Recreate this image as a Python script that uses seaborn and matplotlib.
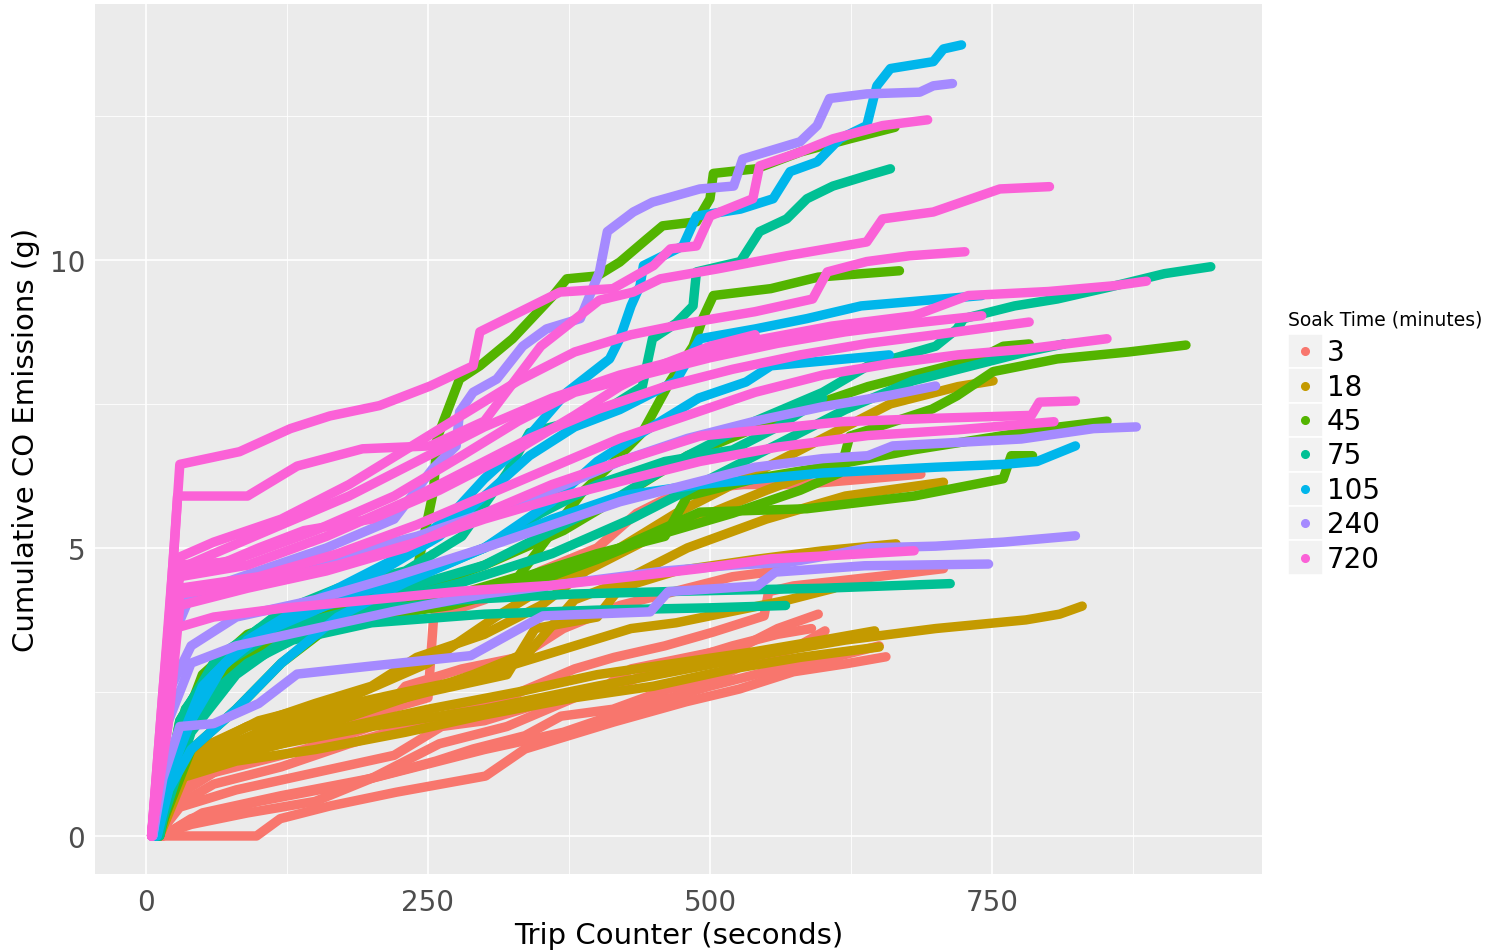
import matplotlib
matplotlib.use("Agg")
import matplotlib.pyplot as plt
from matplotlib.patches import Rectangle
from matplotlib.lines import Line2D
from matplotlib.ticker import MultipleLocator
import seaborn as sns
import pandas as pd

# Soak-time groups (minutes) and their colours
SOAK_TIMES = [3, 18, 45, 75, 105, 240, 720]
COLORS = ["#F8766D", "#C49A00", "#53B400", "#00C094", "#00B6EB", "#A58AFF", "#FB61D7"]

# Each trip: list of (trip counter in s, cumulative CO in g) points
TRIPS_3 = [
    [(12,0),(98,0),(119,0.3),(163,0.52),(222,0.76),(301,1.04),(336,1.51),(415,1.98),(479,2.33),(526,2.55),(574,2.85),(621,2.99),(656,3.11)],
    [(15,0),(40,0.3),(100,0.6),(180,0.9),(257,1.3),(290,1.51),(336,1.74),(368,2.08),(414,2.2),(463,2.55),(510,2.78),(542,3.07),(574,3.25),(602,3.56)],
    [(10,0),(30,0.5),(80,0.8),(150,1.1),(220,1.4),(262,1.9),(300,2.0),(350,2.3),(400,2.5),(430,2.9),(480,3.1),(530,3.3),(560,3.6),(596,3.85)],
    [(10,0),(25,0.5),(60,0.9),(120,1.2),(180,1.6),(250,2.0),(320,2.4),(380,2.9),(415,3.1),(460,3.3),(503,3.54),(548,3.82),(552,4.24),(574,4.34),(652,4.51),(707,4.64)],
    [(10,0),(30,0.8),(100,1.5),(180,2.0),(250,2.4),(255,3.8),(300,4.1),(350,4.6),(400,5.0),(435,5.6),(476,6.0),(530,6.1),(580,6.1),(640,6.2),(687,6.28)],
    [(15,0),(50,0.4),(120,0.7),(200,1.0),(260,1.6),(320,1.9),(380,2.4),(430,2.7),(470,3.0),(520,3.3),(560,3.5),(590,3.6)],
    [(8,0),(20,0.6),(60,1.1),(140,1.5),(200,1.9),(230,2.6),(280,2.9),(330,3.1),(370,3.6),(420,4.0),(480,4.3),(520,4.5),(560,4.6)],
    [(10,0),(40,0.2),(90,0.4),(150,0.6),(200,1.0),(240,1.2),(300,1.5),(370,1.8),(430,2.2),(500,2.6),(560,2.9),(610,3.1),(650,3.3)],
]
TRIPS_18 = [
    [(12,0),(25,1.0),(60,1.3),(120,1.6),(200,1.9),(300,2.2),(400,2.6),(480,2.9),(560,3.2),(620,3.4),(700,3.6),(780,3.75),(810,3.85),(830,3.99)],
    [(10,0),(30,1.0),(80,1.3),(150,1.5),(230,1.8),(300,2.1),(380,2.4),(450,2.6),(520,2.9),(580,3.1),(650,3.28)],
    [(12,0),(35,1.1),(100,1.5),(180,1.9),(250,2.2),(330,2.5),(400,2.8),(470,3.0),(540,3.2),(600,3.4),(646,3.56)],
    [(10,0),(30,1.2),(100,1.8),(170,2.1),(250,2.5),(320,2.8),(345,3.6),(400,3.8),(420,4.3),(470,4.6),(540,4.8),(600,4.95),(665,5.07)],
    [(10,0),(30,1.3),(90,1.9),(150,2.3),(200,2.6),(240,3.1),(300,3.5),(350,4.0),(390,4.6),(450,5.2),(500,5.6),(550,6.0),(605,6.4)],
    [(12,0),(30,1.1),(90,1.6),(170,2.0),(230,2.4),(290,2.8),(340,3.2),(380,4.1),(420,4.4),(480,5.0),(550,5.5),(620,5.9),(707,6.14)],
    [(10,0),(30,1.3),(100,2.0),(180,2.4),(250,3.0),(310,3.8),(360,4.4),(420,5.0),(470,5.6),(540,6.3),(600,6.9),(660,7.5),(720,7.8),(751,7.9)],
    [(12,0),(35,1.4),(90,1.9),(160,2.2),(230,2.5),(280,2.7),(330,3.0),(380,3.3),(430,3.6),(470,3.7),(520,3.9),(570,4.1),(610,4.3)],
]
TRIPS_45 = [
    [(10,0),(25,1.5),(50,2.8),(90,3.5),(150,3.9),(200,4.2),(240,4.6),(255,6.0),(258,6.9),(278,7.93),(296,8.16),(325,8.63),(361,9.38),(373,9.67),(400,9.72),(420,9.96),(444,10.36),(458,10.59),(488,10.66),(500,11.06),(503,11.5),(541,11.58),(580,11.87),(624,12.1),(664,12.3)],
    [(10,0),(30,2.0),(60,3.0),(100,3.5),(180,3.9),(260,4.1),(330,4.5),(387,5.97),(410,6.4),(440,7.0),(465,7.9),(485,8.5),(494,9.0),(503,9.38),(554,9.5),(596,9.7),(668,9.81)],
    [(12,0),(30,1.8),(70,2.8),(120,3.4),(200,3.8),(270,4.0),(330,4.3),(400,4.8),(450,5.2),(520,5.6),(580,6.0),(615,6.3),(624,6.94),(697,7.41),(719,7.64),(751,8.06),(808,8.28),(871,8.4),(922,8.52)],
    [(10,0),(35,2.2),(80,3.3),(150,3.8),(230,4.2),(300,4.7),(370,5.3),(430,6.0),(480,6.6),(530,7.0),(580,7.4),(640,7.8),(700,8.1),(740,8.3),(760,8.5),(783,8.54)],
    [(12,0),(40,2.0),(90,3.2),(160,3.7),(240,4.0),(320,4.4),(400,4.9),(460,5.2),(480,5.9),(540,6.2),(600,6.4),(680,6.7),(760,6.95),(810,7.1),(852,7.2)],
    [(10,0),(40,1.5),(80,2.2),(120,3.0),(160,3.6),(230,3.9),(300,4.2),(380,4.7),(420,5.0),(491,5.62),(586,5.68),(681,5.9),(760,6.2),(767,6.6),(786,6.6)],
]
TRIPS_75 = [
    [(10,0),(25,1.5),(50,2.6),(80,3.3),(120,3.9),(170,4.3),(230,4.6),(280,5.2),(320,6.3),(340,7.0),(400,7.3),(440,7.8),(449,8.63),(470,8.9),(485,9.2),(488,9.79),(527,9.97),(544,10.49),(568,10.71),(586,11.06),(609,11.28),(639,11.46),(660,11.58)],
    [(12,0),(30,2.0),(60,3.0),(100,3.6),(160,4.0),(230,4.3),(300,4.7),(360,5.3),(420,5.9),(480,6.6),(540,7.2),(600,7.7),(640,8.16),(700,8.5),(719,8.8),(725,8.98),(770,9.2),(808,9.32),(855,9.53),(903,9.76),(944,9.88)],
    [(10,0),(30,1.8),(70,3.0),(120,3.6),(200,4.0),(280,4.4),(360,4.9),(430,5.5),(500,6.2),(560,6.8),(620,7.4),(680,7.9),(740,8.2),(780,8.4),(814,8.54)],
    [(10,0),(30,1.5),(60,2.5),(90,3.0),(130,3.4),(200,3.7),(300,3.85),(400,3.92),(500,3.96),(567,4.0)],
    [(10,0),(40,1.8),(80,2.8),(130,3.5),(200,3.9),(280,4.1),(380,4.2),(480,4.25),(600,4.3),(713,4.38)],
    [(12,0),(35,2.2),(70,3.2),(110,3.7),(170,4.1),(240,4.5),(300,5.0),(350,5.6),(400,6.1),(460,6.5),(520,6.7),(560,7.1),(600,7.6)],
]
TRIPS_105 = [
    [(5,0),(20,1.0),(40,2.0),(70,3.0),(110,3.6),(160,4.2),(220,4.8),(270,5.56),(300,6.2),(332,6.77),(373,7.7),(411,8.28),(420,8.63),(430,9.2),(438,9.55),(441,9.9),(476,10.24),(488,10.76),(527,10.88),(556,11.06),(571,11.53),(595,11.7),(615,12.1),(639,12.33),(645,12.8),(648,13.02),(660,13.32),(698,13.44),(707,13.66),(723,13.73)],
    [(8,0),(25,1.4),(50,2.6),(90,3.4),(140,4.0),(200,4.5),(260,5.2),(300,5.9),(340,6.6),(380,7.1),(420,7.4),(470,7.9),(491,8.63),(540,8.8),(586,8.98),(634,9.2),(741,9.38)],
    [(10,0),(30,1.6),(60,2.8),(100,3.5),(160,4.0),(230,4.5),(300,5.0),(360,5.8),(400,6.5),(440,7.0),(490,7.6),(532,7.88),(554,8.16),(659,8.35)],
    [(8,0),(20,0.8),(40,1.5),(80,2.2),(120,3.0),(170,3.8),(230,4.4),(300,5.0),(360,5.5),(420,5.9),(491,6.1),(600,6.3),(700,6.4),(760,6.45),(790,6.5),(824,6.77)],
]
TRIPS_240 = [
    [(5,0),(15,1.5),(25,3.5),(40,4.2),(100,4.6),(160,5.0),(220,5.5),(254,6.37),(275,6.77),(278,7.36),(290,7.7),(311,7.93),(334,8.5),(355,8.8),(385,8.98),(402,9.79),(409,10.49),(432,10.83),(449,11.0),(491,11.23),(521,11.28),(529,11.75),(580,12.05),(595,12.33),(606,12.8),(639,12.88),(686,12.91),(698,13.02),(715,13.06)],
    [(5,0),(15,2.0),(30,4.0),(60,4.3),(120,4.6),(180,4.9),(240,5.2),(300,5.6),(360,6.0),(420,6.5),(480,6.9),(540,7.2),(600,7.45),(660,7.65),(700,7.81)],
    [(6,0),(20,2.5),(40,3.3),(80,3.8),(150,4.1),(220,4.5),(300,5.0),(360,5.4),(420,5.8),(480,6.1),(540,6.4),(600,6.55),(640,6.6),(662,6.77),(776,6.89),(840,7.07),(878,7.1)],
    [(6,0),(20,2.0),(40,3.0),(80,3.3),(150,3.6),(220,3.9),(300,4.2),(380,4.4),(460,4.6),(520,4.7),(570,4.75),(600,4.85),(640,5.0),(700,5.03),(760,5.1),(824,5.21)],
    [(6,0),(15,1.0),(30,1.9),(60,1.95),(100,2.3),(134,2.81),(200,2.95),(288,3.13),(336,3.65),(352,3.82),(447,3.89),(463,4.24),(542,4.34),(558,4.58),(637,4.69),(747,4.72)],
]
TRIPS_720 = [
    [(5,0),(15,2.5),(25,5.0),(30,6.45),(83,6.67),(128,7.07),(163,7.29),(207,7.47),(252,7.81),(290,8.16),(296,8.75),(332,9.1),(367,9.44),(414,9.5),(450,9.9),(465,10.19),(488,10.24),(500,10.76),(538,11.06),(544,11.63),(580,11.87),(609,12.1),(653,12.33),(693,12.43)],
    [(5,0),(15,2.2),(28,5.9),(90,5.9),(134,6.42),(192,6.72),(252,6.77),(300,7.2),(350,8.5),(402,9.3),(432,9.44),(456,9.67),(506,9.84),(568,10.07),(639,10.31),(653,10.71),(698,10.83),(757,11.23),(801,11.27)],
    [(5,0),(15,1.8),(25,4.8),(60,5.1),(120,5.5),(180,6.1),(230,6.7),(280,7.3),(330,7.9),(380,8.4),(430,8.7),(480,8.9),(540,9.1),(591,9.32),(604,9.79),(639,9.97),(677,10.07),(726,10.14)],
    [(5,0),(15,1.5),(25,4.6),(60,4.9),(120,5.4),(180,5.9),(240,6.5),(300,7.1),(360,7.6),(420,8.0),(480,8.3),(540,8.6),(608,8.85),(681,9.03),(729,9.38),(800,9.45),(858,9.55),(887,9.63)],
    [(5,0),(20,3.0),(30,4.6),(80,4.8),(150,5.3),(220,5.9),(280,6.6),(330,7.2),(380,7.7),(440,8.0),(500,8.3),(560,8.55),(620,8.75),(680,8.9),(741,9.03)],
    [(5,0),(20,3.5),(30,4.5),(90,4.7),(160,5.2),(230,5.8),(290,6.4),(340,6.9),(400,7.4),(460,7.8),(520,8.1),(580,8.35),(640,8.55),(700,8.7),(783,8.92)],
    [(5,0),(20,2.8),(30,4.3),(100,4.5),(170,4.9),(240,5.4),(300,5.9),(360,6.4),(420,6.9),(480,7.3),(540,7.7),(600,8.0),(660,8.2),(720,8.35),(780,8.45),(820,8.55),(852,8.63)],
    [(5,0),(20,2.0),(30,4.0),(90,4.3),(160,4.6),(230,5.0),(300,5.6),(360,6.1),(420,6.5),(491,6.94),(617,7.19),(700,7.25),(785,7.3),(792,7.53),(824,7.55)],
    [(5,0),(15,1.5),(30,4.2),(100,4.4),(170,4.7),(240,5.1),(300,5.5),(370,5.9),(430,6.2),(491,6.5),(560,6.75),(640,6.95),(720,7.05),(805,7.19)],
    [(5,0),(15,2.0),(25,3.6),(60,3.8),(120,3.95),(200,4.1),(280,4.25),(360,4.35),(430,4.5),(491,4.64),(554,4.81),(620,4.88),(681,4.95)],
    [(5,0),(15,2.5),(25,4.7),(70,4.75),(100,5.0),(140,5.3),(200,5.5),(260,6.0),(320,6.6),(380,7.3),(420,7.8),(460,8.2),(500,8.5),(540,8.7)],
]

GROUPS = {3: TRIPS_3, 18: TRIPS_18, 45: TRIPS_45, 75: TRIPS_75,
          105: TRIPS_105, 240: TRIPS_240, 720: TRIPS_720}

rows = []
trip_id = 0
for soak in SOAK_TIMES:
    for trip in GROUPS[soak]:
        for t, co in trip:
            rows.append({"trip": trip_id, "soak": soak, "t": t, "co": co})
        trip_id += 1
df = pd.DataFrame(rows)

W, H, DPI = 1487, 953, 100
sns.set_theme(style="darkgrid")
plt.rcParams["font.family"] = ["DejaVu Sans"]

fig = plt.figure(figsize=(W / DPI, H / DPI), dpi=DPI)
fig.patch.set_facecolor("white")

def fx(px):
    return px / W

def fy(py):
    return 1 - py / H

ax = fig.add_axes([fx(95), fy(875), fx(1262) - fx(95), fy(5) - fy(875)])
ax.set_facecolor("#EBEBEB")

sns.lineplot(data=df, x="t", y="co", hue="soak", units="trip", estimator=None,
             sort=False, hue_order=SOAK_TIMES, palette=COLORS, legend=False,
             linewidth=6.8, solid_capstyle="round", solid_joinstyle="round", ax=ax)

ax.set_xlim(-45.2, 989.4)
ax.set_ylim(-0.66, 14.44)
ax.xaxis.set_major_locator(MultipleLocator(250))
ax.xaxis.set_minor_locator(MultipleLocator(125))
ax.yaxis.set_major_locator(MultipleLocator(5))
ax.yaxis.set_minor_locator(MultipleLocator(2.5))
ax.grid(which="major", color="white", linewidth=1.2)
ax.grid(which="minor", color="white", linewidth=0.6)
ax.set_axisbelow(True)
for s in ax.spines.values():
    s.set_visible(False)

ax.tick_params(which="major", length=4, width=1, color="#333333",
               labelsize=20, labelcolor="#4D4D4D")
ax.tick_params(axis="x", pad=6)
ax.tick_params(axis="y", pad=3)
ax.tick_params(which="minor", length=0)
ax.set_xlabel("Trip Counter (seconds)", fontsize=21, color="black", labelpad=4)
ax.set_ylabel("Cumulative CO Emissions (g)", fontsize=21, color="black", labelpad=7)

# Legend drawn as ggplot-style key boxes
fig.text(fx(1288), fy(320), "Soak Time (minutes)", fontsize=13.5, va="center", ha="left", color="black")
key_top = 335
key_h = 34.4
for i, (soak, col) in enumerate(zip(SOAK_TIMES, COLORS)):
    y0 = key_top + i * key_h
    fig.add_artist(Rectangle((fx(1288), fy(y0 + key_h)), fx(34.5), key_h / H,
                             transform=fig.transFigure, facecolor="#F2F2F2",
                             edgecolor="white", linewidth=1.2))
    cy = y0 + key_h / 2
    fig.add_artist(Line2D([fx(1305)], [fy(cy)], marker="o", markersize=5.5,
                          color=col, linestyle="none", transform=fig.transFigure))
    fig.text(fx(1327), fy(cy + 1), str(soak), fontsize=20, va="center", ha="left", color="black")

fig.savefig("out.png", dpi=DPI)
